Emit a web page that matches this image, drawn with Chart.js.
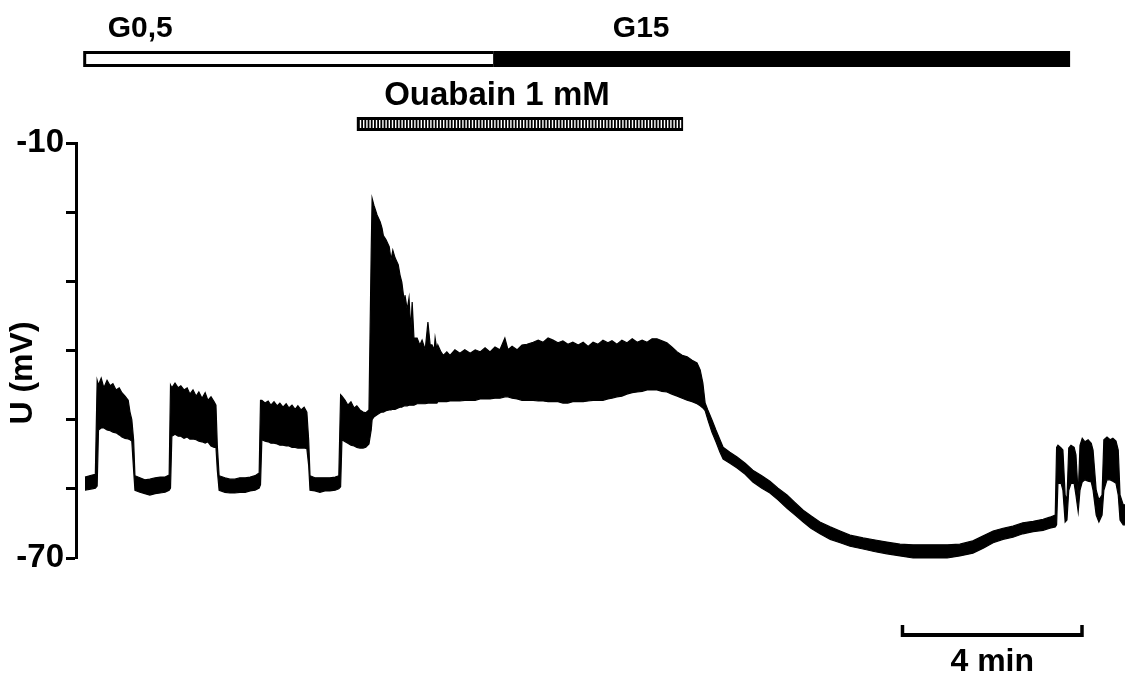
<!DOCTYPE html>
<html>
<head>
<meta charset="utf-8">
<script src="https://cdn.jsdelivr.net/npm/chart.js@4"></script>
<style>
  html, body { margin: 0; padding: 0; background: #fff; }
  #wrap { width: 1125px; height: 677px; }
</style>
</head>
<body>
<div id="wrap"><canvas id="chart" width="1125" height="677"></canvas></div>
<script>
// membrane potential trace, sampled as upper / lower envelope (minutes, mV)
const timeMin = [
  0, 0.16, 0.23, 0.27, 0.30, 0.36, 0.42, 0.49, 0.56, 0.62, 0.69, 0.76, 0.82, 0.89, 0.96, 1.00, 1.04, 1.08,
  1.11, 1.22, 1.33, 1.44, 1.56, 1.67, 1.78, 1.87,
  1.90, 1.93, 2.00, 2.07, 2.13, 2.20, 2.27, 2.33, 2.40, 2.47, 2.53, 2.60, 2.67, 2.73, 2.80, 2.87, 2.91, 2.94,
  2.98, 3.11, 3.22, 3.33, 3.44, 3.56, 3.67, 3.78, 3.87,
  3.90, 3.93, 4.00, 4.07, 4.13, 4.20, 4.27, 4.33, 4.40, 4.47, 4.53, 4.60, 4.67, 4.73, 4.80, 4.87, 4.93, 4.97,
  5.00, 5.11, 5.22, 5.33, 5.44, 5.56, 5.64,
  5.68, 5.71, 5.78, 5.84, 5.91, 5.98, 6.04, 6.11, 6.18, 6.24, 6.31,
  6.36, 6.38, 6.42, 6.49, 6.56, 6.60, 6.63, 6.69, 6.76, 6.80, 6.84, 6.89, 6.96, 7.00, 7.04, 7.09, 7.11, 7.16,
  7.20, 7.24, 7.27, 7.31, 7.38, 7.44, 7.49, 7.56, 7.62, 7.67, 7.71, 7.76, 7.78, 7.82, 7.84, 7.91, 7.96,
  8.04, 8.11, 8.22, 8.33, 8.44, 8.56, 8.67, 8.78, 8.89, 9.00, 9.11, 9.22, 9.33, 9.40, 9.49, 9.60, 9.71, 9.82, 9.96,
  10.07, 10.18, 10.29, 10.40, 10.51, 10.62, 10.73, 10.84, 10.96, 11.07, 11.18, 11.29, 11.40, 11.51, 11.62, 11.71,
  11.82, 11.93, 12.04, 12.16, 12.27, 12.38, 12.49, 12.60, 12.71, 12.82, 12.93, 13.04, 13.16, 13.27, 13.38, 13.49,
  13.60, 13.67, 13.73, 13.78,
  13.84, 13.93, 14.02, 14.11, 14.18, 14.33, 14.49, 14.67, 14.84, 15.04, 15.22, 15.40, 15.60, 15.78, 15.96, 16.13,
  16.33, 16.56, 16.78, 17.00, 17.29, 17.56, 17.82, 18.11, 18.40, 18.67, 18.93, 19.16, 19.44, 19.73, 19.96, 20.18,
  20.40, 20.62, 20.84, 21.07, 21.29, 21.44, 21.56,
  21.59, 21.62, 21.69, 21.73, 21.78, 21.82, 21.86, 21.91, 21.98, 22.02, 22.07, 22.11, 22.16, 22.22, 22.29, 22.36,
  22.40, 22.47, 22.53, 22.60, 22.64, 22.71, 22.78, 22.84, 22.91, 22.96, 23.00, 23.07, 23.11
];
const upperMv = [
  -58.3, -58.0, -57.9, -44.3, -45.0, -44.0, -45.4, -44.3, -45.1, -44.8, -45.7, -45.4, -46.1, -46.6, -47.2, -48.9, -50.0, -52.9,
  -58.1, -58.4, -58.7, -58.6, -58.4, -58.3, -58.3, -58.0,
  -45.0, -45.4, -44.7, -45.4, -45.1, -45.7, -45.4, -46.3, -45.7, -46.6, -46.0, -46.9, -46.1, -47.2, -46.7, -47.4, -47.9, -53.7,
  -58.1, -58.4, -58.6, -58.6, -58.4, -58.4, -58.3, -58.1, -57.7,
  -47.2, -47.2, -47.6, -47.3, -47.9, -47.4, -48.0, -47.6, -48.2, -47.7, -48.3, -47.9, -48.5, -48.0, -48.6, -48.2, -48.9, -52.9,
  -58.1, -58.4, -58.4, -58.4, -58.4, -58.3, -58.1,
  -46.4, -46.6, -47.2, -47.9, -47.4, -48.3, -48.0, -48.6, -48.9, -49.0, -48.6,
  -25.5, -18.0, -19.0, -20.4, -21.4, -22.3, -23.4, -24.0, -25.0, -26.9, -25.5, -26.6, -27.6, -29.1, -30.1, -32.7, -32.0, -34.1,
  -32.4, -37.0, -33.0, -38.2, -38.2, -39.2, -38.5, -39.9, -35.9, -39.2, -39.2, -39.9, -38.2, -39.9, -39.2, -40.2, -40.7,
  -40.2, -40.7, -39.9, -40.4, -39.9, -40.4, -39.9, -40.2, -39.6, -40.2, -39.5, -39.9, -38.2, -39.9, -39.4, -39.9, -39.2, -39.1, -38.8,
  -38.5, -38.8, -38.2, -38.5, -38.9, -38.6, -39.1, -38.8, -39.2, -38.8, -39.4, -38.8, -39.1, -38.5, -38.9, -38.6,
  -39.1, -38.5, -38.9, -38.3, -38.8, -38.5, -38.8, -38.3, -38.3, -38.6, -38.9, -39.5, -40.2, -40.7, -40.9, -41.4,
  -41.8, -42.8, -44.7, -47.6,
  -48.6, -50.0, -51.5, -52.9, -54.0, -54.7, -55.4, -56.3, -57.3, -58.1, -58.9, -59.9, -60.9, -62.0, -63.1, -63.9,
  -64.8, -65.5, -66.1, -66.7, -67.1, -67.4, -67.7, -68.0, -68.1, -68.1, -68.1, -68.1, -68.0, -67.5, -66.8, -66.1,
  -65.7, -65.4, -64.9, -64.7, -64.4, -64.1, -63.8,
  -54.0, -53.7, -54.1, -54.4, -60.9, -61.6, -54.1, -53.7, -54.0, -55.1, -60.9, -53.7, -52.7, -53.2, -52.9, -53.4,
  -54.4, -60.2, -61.6, -60.9, -52.9, -52.5, -52.9, -52.7, -53.1, -54.4, -60.9, -62.3, -62.3
];
const lowerMv = [
  -60.2, -60.0, -59.9, -59.6, -51.5, -51.2, -51.2, -51.5, -51.6, -51.8, -51.9, -52.2, -52.5, -52.7, -52.8, -52.9, -53.1, -57.3,
  -60.2, -60.5, -60.7, -60.9, -60.7, -60.6, -60.5, -60.2,
  -59.9, -52.4, -52.1, -52.4, -52.4, -52.7, -52.5, -52.8, -52.8, -52.9, -53.1, -53.2, -53.4, -53.2, -53.8, -54.0, -54.0, -57.3,
  -60.2, -60.5, -60.6, -60.6, -60.5, -60.5, -60.3, -60.2, -59.9,
  -59.4, -52.9, -53.1, -53.2, -53.4, -53.4, -53.5, -53.7, -53.7, -53.8, -53.8, -54.0, -54.0, -54.1, -54.1, -54.1, -54.2, -56.6,
  -60.2, -60.3, -60.5, -60.3, -60.3, -60.2, -60.0,
  -59.7, -52.9, -53.2, -53.4, -53.7, -53.8, -54.0, -54.1, -54.1, -54.0, -53.5,
  -51.5, -50.0, -49.6, -49.3, -49.0, -48.9, -48.9, -48.7, -48.6, -48.6, -48.5, -48.5, -48.3, -48.2, -48.2, -48.0, -48.0, -48.0,
  -47.9, -47.9, -47.9, -47.9, -47.7, -47.7, -47.7, -47.7, -47.6, -47.6, -47.6, -47.6, -47.6, -47.6, -47.4, -47.4, -47.4,
  -47.4, -47.3, -47.3, -47.3, -47.2, -47.2, -47.2, -47.0, -47.0, -47.0, -46.9, -46.9, -46.7, -46.7, -46.9, -47.0, -47.2, -47.2, -47.2,
  -47.3, -47.3, -47.4, -47.4, -47.4, -47.6, -47.6, -47.4, -47.4, -47.4, -47.3, -47.2, -47.2, -47.2, -47.0, -46.9,
  -46.7, -46.6, -46.3, -46.1, -46.0, -45.9, -45.7, -45.7, -45.7, -45.9, -46.0, -46.3, -46.6, -46.9, -47.2, -47.4,
  -47.7, -48.0, -48.3, -48.7,
  -50.0, -51.8, -53.2, -54.7, -55.7, -56.3, -57.0, -57.9, -59.0, -59.9, -60.6, -61.6, -62.8, -63.8, -64.8, -65.7,
  -66.5, -67.3, -67.8, -68.3, -68.7, -69.1, -69.4, -69.7, -70.0, -70.0, -70.0, -70.0, -69.7, -69.3, -68.6, -67.8,
  -67.3, -67.0, -66.5, -66.2, -66.0, -65.7, -65.5,
  -65.2, -59.2, -59.2, -60.2, -64.8, -64.5, -60.2, -59.2, -59.2, -60.9, -63.3, -60.2, -59.0, -58.7, -58.9, -59.0,
  -60.2, -63.8, -64.8, -63.8, -60.2, -58.7, -58.7, -58.9, -59.2, -60.9, -64.5, -65.2, -65.2
];

// y axis: minor ticks every 10 mV, only the ends labelled
const yTicks = [-10, -20, -30, -40, -50, -60, -70];
const yLabelled = [-10, -70];

// perfusion protocol (minutes)
const glucoseNames = ['G0,5', 'G15'];
const glucoseFrom = [-0.04, 9.07];
const glucoseTo = [9.07, 21.89];
const drugName = 'Ouabain 1 mM';
const drugFrom = 6.04;
const drugTo = 13.29;
const scaleBarFrom = 18.16;
const scaleBarMin = 4;

const FONT = '"Liberation Sans", Arial, sans-serif';

const protocolBars = {
  id: 'protocolBars',
  afterDraw(chart) {
    const { ctx } = chart;
    const x = chart.scales.x;
    const px = v => x.getPixelForValue(v);
    ctx.save();
    ctx.fillStyle = '#000';
    ctx.textAlign = 'center';
    ctx.textBaseline = 'middle';
    ctx.font = `bold 30px ${FONT}`;

    // glucose bar: open for low glucose, solid for high glucose
    const labelOffset = [57, 148];
    glucoseNames.forEach((name, i) => {
      const x0 = px(glucoseFrom[i]);
      const x1 = px(glucoseTo[i]);
      ctx.fillStyle = '#000';
      ctx.fillRect(x0, 51, x1 - x0, 16);
      if (i === 0) {
        ctx.fillStyle = '#fff';
        ctx.fillRect(x0 + 3, 54, x1 - x0 - 3, 10);
      }
      ctx.fillStyle = '#000';
      ctx.fillText(name, x0 + labelOffset[i], 29);
    });

    // ouabain application, hatched bar
    const d0 = px(drugFrom);
    const d1 = px(drugTo);
    ctx.fillRect(d0, 117, d1 - d0, 14);
    ctx.fillStyle = '#fff';
    for (let p = d0 + 3; p < d1 - 3; p += 3.2) ctx.fillRect(p, 120, 1.4, 8);
    ctx.fillStyle = '#000';
    ctx.font = `bold 33px ${FONT}`;
    ctx.fillText(drugName, (d0 + d1) / 2 - 23, 96);

    // time scale bar
    const s0 = px(scaleBarFrom);
    const s1 = px(scaleBarFrom + scaleBarMin);
    ctx.fillRect(s0, 633, s1 - s0, 4);
    ctx.fillRect(s0 - 1.5, 625, 3.5, 12);
    ctx.fillRect(s1 - 2, 625, 3.5, 12);
    ctx.font = `bold 32px ${FONT}`;
    ctx.fillText(scaleBarMin + ' min', (s0 + s1) / 2, 662);

    // y axis title
    ctx.translate(23, 373);
    ctx.rotate(-Math.PI / 2);
    ctx.font = `bold 32px ${FONT}`;
    ctx.fillText('U (mV)', 0, 0);
    ctx.restore();
  }
};

new Chart(document.getElementById('chart'), {
  type: 'line',
  data: {
    datasets: [
      {
        data: timeMin.map((t, i) => ({ x: t, y: upperMv[i] })),
        borderColor: '#000',
        backgroundColor: '#000',
        borderWidth: 1.2,
        pointRadius: 0,
        tension: 0,
        fill: '+1',
        clip: 6,
      },
      {
        data: timeMin.map((t, i) => ({ x: t, y: lowerMv[i] })),
        borderColor: '#000',
        borderWidth: 1.2,
        pointRadius: 0,
        tension: 0,
        fill: false,
        clip: 6,
      },
    ],
  },
  options: {
    responsive: false,
    animation: false,
    layout: { padding: { top: 143, bottom: 119, left: 0, right: 0 } },
    plugins: { legend: { display: false }, tooltip: { enabled: false } },
    scales: {
      x: { type: 'linear', min: -0.2, max: 23.11, display: false },
      y: {
        min: -70,
        max: -10,
        afterFit: s => { s.width = 76; },
        afterBuildTicks: s => { s.ticks = yTicks.map(v => ({ value: v })); },
        border: { display: true, color: '#000', width: 3 },
        grid: { drawOnChartArea: false, drawTicks: true, tickLength: 10, tickWidth: 3, tickColor: '#000' },
        ticks: {
          callback: v => (yLabelled.includes(v) ? String(v) : ''),
          color: '#000',
          padding: 2,
          font: { family: FONT, weight: 'bold', size: 33 },
        },
      },
    },
  },
  plugins: [protocolBars],
});
</script>
</body>
</html>
